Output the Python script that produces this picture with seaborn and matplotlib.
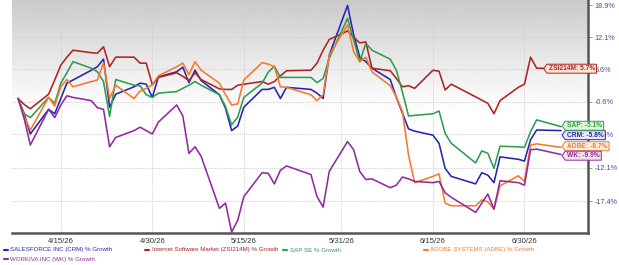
import numpy as np
import pandas as pd
import seaborn as sns
import matplotlib.pyplot as plt
from matplotlib.path import Path
from matplotlib.lines import Line2D
from matplotlib.ticker import NullLocator

# trading days and % growth since 4/8/26
dates = ['2026-04-08', '2026-04-09', '2026-04-10', '2026-04-13', '2026-04-14', '2026-04-15', '2026-04-16', '2026-04-17',
         '2026-04-20', '2026-04-21', '2026-04-22', '2026-04-23', '2026-04-24',
         '2026-04-27', '2026-04-28', '2026-04-29', '2026-04-30', '2026-05-01',
         '2026-05-04', '2026-05-05', '2026-05-06', '2026-05-07', '2026-05-08',
         '2026-05-11', '2026-05-12', '2026-05-13', '2026-05-14', '2026-05-15',
         '2026-05-18', '2026-05-19', '2026-05-20', '2026-05-21', '2026-05-22',
         '2026-05-26', '2026-05-27', '2026-05-28', '2026-05-29',
         '2026-06-01', '2026-06-02', '2026-06-03', '2026-06-04', '2026-06-05',
         '2026-06-08', '2026-06-09', '2026-06-10', '2026-06-11', '2026-06-12',
         '2026-06-15', '2026-06-16', '2026-06-17', '2026-06-18',
         '2026-06-22', '2026-06-23', '2026-06-24', '2026-06-25', '2026-06-26',
         '2026-06-29', '2026-06-30', '2026-07-01', '2026-07-02', '2026-07-06']

crm = [0.0, -2.8, -6.4, -2.0, -2.8, 0.0, 2.9, 3.5,
       5.4, 6.1, 7.6, -1.6, 0.8,
       2.2, 2.9, 2.7, 0.2, 4.1,
       5.1, 6.0, 3.0, 5.4, 3.4,
       0.7, -1.8, -5.8, -5.0, -1.6,
       1.7, 1.7, 2.1, 0.0, 2.1,
       1.7, 1.0, 0.0, 8.4,
       18.9, 12.6, 8.0, 7.1, 5.8,
       3.6, 0.2, -2.7, -5.5, -5.9,
       -6.6, -8.0, -12.2, -13.5,
       -14.7, -12.9, -13.3, -14.5, -10.3,
       -10.7, -11.0, -7.4, -5.7, -5.8]

zsi = [0.0, -1.1, -1.9, 0.8, 3.5, 6.4, 8.0, 9.4,
       8.9, 8.8, 10.1, 6.1, 8.0,
       8.0, 6.8, 6.8, 2.6, 4.0,
       4.9, 4.2, 3.4, 4.9, 3.6,
       1.8, 1.7, 1.7, 2.5, 2.7,
       3.2, 2.7, 3.2, 4.3, 5.3,
       5.4, 6.8, 9.4, 11.6,
       13.4, 12.1, 10.9, 11.1, 5.8,
       5.3, 3.8, 2.2, 2.4, 1.9,
       5.4, 5.2, 1.6, 2.7,
       0.3, -0.3, -0.9, -2.8, -0.4,
       2.1, 2.7, 8.0, 5.8, 5.7]

sap = [0.0, -2.8, -3.5, 0.2, -0.9, 2.9, 4.9, 7.1,
       5.8, 5.1, 3.2, -3.3, 3.6,
       2.5, 2.4, 0.7, 0.2, 1.0,
       1.3, 1.9, 2.5, 3.2, 2.5,
       0.7, -1.5, -4.8, -3.4, 0.2,
       2.9, 5.0, 6.2, 4.0, 4.0,
       4.0, 3.0, 3.8, 7.8,
       16.1, 11.5, 7.1, 10.8, 9.4,
       7.6, 5.4, 1.2, -3.2, -3.1,
       -2.8, -2.3, -6.3, -8.0,
       -11.3, -9.3, -9.7, -12.2, -8.5,
       -8.6, -8.7, -6.0, -3.9, -5.1]

adbe = [0.0, -3.3, -5.7, 0.2, -1.4, 2.2, 3.6, 2.2,
        3.2, 3.5, 6.9, 0.0, 2.5,
        0.0, 1.4, 1.9, 2.6, 4.3,
        6.1, 6.8, 4.5, 7.1, 5.4,
        2.9, 0.7, -1.2, -1.0, 3.5,
        6.9, 6.6, 6.1, 2.2, 2.1,
        0.7, -0.4, 0.7, 8.4,
        14.7, 9.1, 7.1, 8.0, 5.1,
        2.4, 0.3, -2.4, -10.0, -14.5,
        -13.5, -13.1, -17.7, -18.1,
        -18.1, -17.2, -17.5, -18.6, -15.0,
        -13.4, -14.3, -8.3, -8.1, -8.7]

wk = [0.0, -3.7, -8.3, -2.0, -3.5, -1.2, 0.5, 0.2,
      -0.4, -1.7, -2.0, -8.6, -7.0,
      -5.8, -5.2, -5.8, -6.4, -4.3,
      -1.2, -3.2, -9.7, -8.6, -10.2,
      -18.5, -17.7, -22.0, -20.3, -16.7,
      -12.9, -13.0, -14.7, -12.5, -11.8,
      -13.2, -16.7, -18.3, -12.7,
      -7.7, -9.1, -12.7, -14.0, -13.9,
      -15.3, -14.9, -13.6, -13.9, -14.3,
      -14.5, -14.3, -16.1, -16.8,
      -19.1, -17.7, -16.3, -18.6, -14.2,
      -14.5, -14.9, -9.1, -9.0, -9.9]

series_names = ['SALESFORCE INC (CRM) % Growth', 'Internet Software Market (ZSI214M) % Growth',
                'SAP SE % Growth', 'ADOBE SYSTEMS (ADBE) % Growth', 'WORKIVA INC (WK) % Growth']
series_vals = [crm, zsi, sap, adbe, wk]
colors = ['#2525b0', '#ad2424', '#2f9c50', '#f7792b', '#8e2c9e']
fills = ['#e9e9f8', '#fbe3d4', '#e6f5d3', '#fdefe0', '#f3e2f1']
tag_text = ['CRM: -5.8%', 'ZSI214M: 5.7%', 'SAP: -5.1%', 'ADBE: -8.7%', 'WK: -9.9%']

y_ticks = [18.9, 12.1, 5.6, -0.6, -6.4, -12.1, -17.4]
x_ticks = ['2026-04-15', '2026-04-30', '2026-05-15', '2026-05-31', '2026-06-15', '2026-06-30']
x_tick_labels = ['4/15/26', '4/30/26', '5/15/26', '5/31/26', '6/15/26', '6/30/26']

df = pd.concat([pd.DataFrame({'date': pd.to_datetime(dates), 'growth': v, 'series': n})
                for n, v in zip(series_names, series_vals)])
df['ratio'] = 1 + df['growth'] / 100

sns.set_style('white')
plt.rcParams['font.family'] = ['Liberation Sans', 'DejaVu Sans']

W, H = 619, 265
fig = plt.figure(figsize=(W / 100, H / 100), dpi=100)
rect = [12 / W, 32 / H, 576 / W, 233 / H]

# grey fade at the top of the plot area
bg = fig.add_axes(rect, zorder=0)
t = np.linspace(0, 1, 300)
shade = 1 - 0.21 * np.clip(1 - t / 0.5, 0, 1) ** 1.2
bg.imshow(shade[:, None], cmap='gray', vmin=0, vmax=1, aspect='auto', extent=(0, 1, 0, 1))
bg.axis('off')

ax = fig.add_axes(rect, zorder=1)
ax.patch.set_alpha(0)
sns.lineplot(data=df, x='date', y='ratio', hue='series', hue_order=series_names,
             palette=colors, linewidth=1.15, legend=False, ax=ax)

ax.set_yscale('log')
ax.set_ylim(0.7785, 1.2012)
ax.set_xlim(pd.Timestamp('2026-04-07'), pd.Timestamp('2026-07-10 10:00'))
ax.yaxis.set_minor_locator(NullLocator())
ax.set_yticks([1 + v / 100 for v in y_ticks])
ax.set_yticklabels([f'{v:.1f}%' for v in y_ticks])
ax.set_xticks(pd.to_datetime(x_ticks))
ax.set_xticklabels(x_tick_labels)
ax.set_xlabel('')
ax.set_ylabel('')

ax.yaxis.tick_right()
ax.tick_params(axis='y', length=3, width=0.6, color='#888888', labelcolor='#4646a8',
               labelsize=5.2, pad=1.5)
ax.tick_params(axis='x', length=0, labelsize=5.6, labelcolor='#333333', pad=3.5)
ax.grid(True, color='#cfcfcf', linestyle=(0, (1.5, 1.2)), linewidth=0.6)
for side in ['left', 'top']:
    ax.spines[side].set_visible(False)
for side in ['right', 'bottom']:
    ax.spines[side].set_color('#555555')
    ax.spines[side].set_linewidth(1.8)


def tag_box(x0, y0, width, height, mutation_size):
    pad = 0.25 * mutation_size
    left, right = x0 - pad, x0 + width + pad
    bottom, top = y0 - pad * 0.6, y0 + height + pad * 0.6
    tip = 0.35 * (top - bottom)
    mid = (top + bottom) / 2
    verts = [(left - tip, mid), (left, bottom), (right, bottom), (right, top), (left, top), (left - tip, mid)]
    return Path(verts, closed=True)


# value tags at the right end
tag_dates = ['2026-07-06', '2026-07-03', '2026-07-06', '2026-07-06', '2026-07-06']
tag_y = [-6.6, 5.7, -4.95, -8.5, -10.1]
for lab, d, v, c, f in zip(tag_text, tag_dates, tag_y, colors, fills):
    ax.annotate(lab, xy=(pd.Timestamp(d), 1 + v / 100), xytext=(4.2, 0), textcoords='offset points',
                ha='left', va='center', fontsize=4.8, fontweight='bold', color=c,
                bbox=dict(boxstyle=tag_box, fc=f, ec=c, lw=0.7),
                annotation_clip=False, zorder=10)

# legend below the chart
legend_pos = [(4, 250), (145, 250), (283, 250), (424, 250), (4, 259)]
for name, c, (px, py) in zip(series_names, colors, legend_pos):
    yf = 1 - py / H
    fig.add_artist(Line2D([px / W, (px + 4) / W], [yf, yf], color=c, lw=1.5, transform=fig.transFigure))
    fig.text((px + 6.5) / W, yf, name, color=c, fontsize=4.4, ha='left', va='center')

fig.savefig('out.png', dpi=100)
